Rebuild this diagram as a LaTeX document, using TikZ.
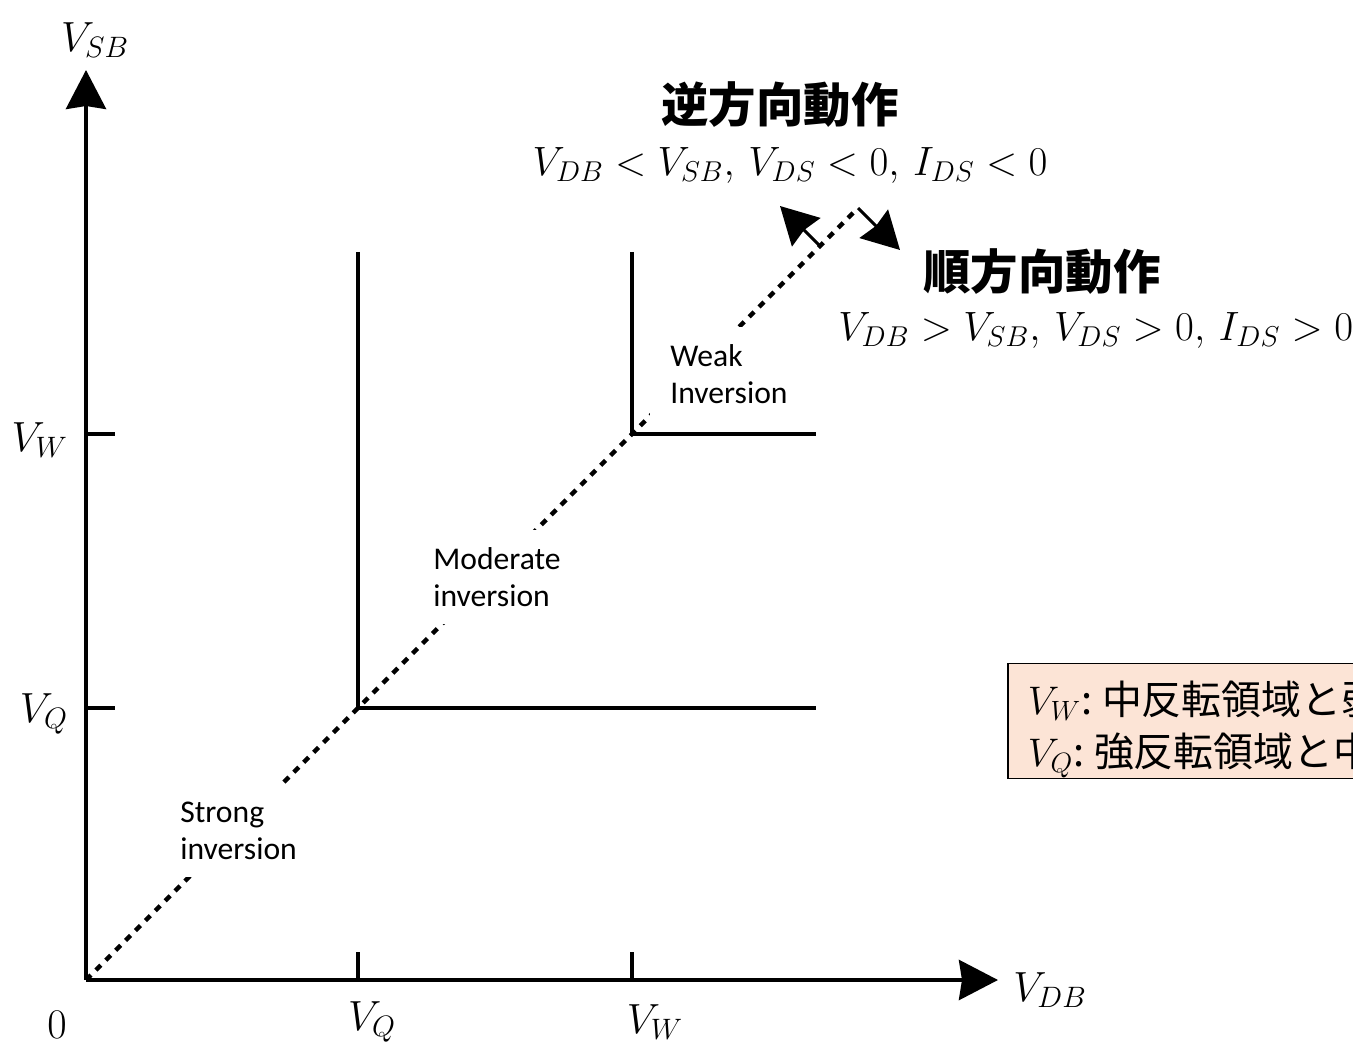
\RequirePackage{fix-cm}
\documentclass[tikz,border=0pt]{standalone}
\usepackage{fontspec}
\setsansfont{Carlito}
\newfontfamily\jpfont{Noto Sans CJK JP}
\usetikzlibrary{arrows.meta}
\definecolor{keyfill}{RGB}{252,228,214}

\newcommand*{\vq}{272}
\newcommand*{\vw}{546}
\newcommand*{\xend}{730}
\newcommand*{\ytop}{728}

\begin{document}
\begin{tikzpicture}
[
	x=0.02cm, y=0.02cm,
	axis/.style={line width=0.08cm,-{Stealth[length=0.78cm,width=0.8cm,inset=0.06cm]}},
	border/.style={line width=0.08cm},
	tickmark/.style={line width=0.08cm},
	diag/.style={line width=0.09cm,dash pattern=on 0.14cm off 0.14cm},
	flow/.style={line width=0.06cm,-{Stealth[length=0.74cm,width=0.8cm,inset=0.06cm]}},
	region/.style={fill=white,font=\sffamily\fontsize{18}{21}\selectfont,align=left,inner xsep=0.4cm,inner ysep=0.34cm,anchor=west},
	mathlbl/.style={font=\fontsize{24}{28}\selectfont},
	cond/.style={font=\fontsize{23.3}{28}\selectfont},
	heading/.style={font=\jpfont\bfseries\fontsize{27}{32}\selectfont},
	keybox/.style={draw,line width=0.03cm,fill=keyfill,anchor=north west,align=left,text width=8cm,minimum height=2.3cm,inner xsep=0.4cm,inner ysep=0cm,font=\jpfont\fontsize{22.7}{29.5}\selectfont}
]

	\useasboundingbox (-86,-69) rectangle (1267,980);

	% points
	\coordinate (O) at (0,0);
	\coordinate (xtip) at (912,0);
	\coordinate (ytip) at (0,910);
	\coordinate (Q) at (\vq,\vq);
	\coordinate (W) at (\vw,\vw);
	\coordinate (Qtop) at (\vq,\ytop);
	\coordinate (Qright) at (\xend,\vq);
	\coordinate (Wtop) at (\vw,\ytop);
	\coordinate (Wright) at (\xend,\vw);
	\coordinate (dend) at (772,772);
	\coordinate (rbase) at (734,734);
	\coordinate (rtip) at (694,774);
	\coordinate (ftip) at (814,730);

	% diagonal
	\draw[diag] (O) -- (dend);

	% axes
	\draw[axis] (O) -- (xtip);
	\draw[axis] (O) -- (ytip);

	% ticks
	\foreach \v in {\vq,\vw} {
		\draw[tickmark] (0,\v) -- (29,\v);
		\draw[tickmark] (\v,0) -- (\v,28);
	}

	% region borders
	\draw[border] (Qtop) -- (Q) -- (Qright);
	\draw[border] (Wtop) -- (W) -- (Wright);

	% axis labels
	\node[mathlbl] (lsb) at (9,940) {$V_{SB}$};
	\node[mathlbl] (ldb) at (964,-10) {$V_{DB}$};
	\node[mathlbl] (lzero) at (-29,-45) {$0$};
	\node[mathlbl] (lxq) at (286,-42) {$V_Q$};
	\node[mathlbl] (lxw) at (569,-42) {$V_W$};
	\node[mathlbl,anchor=east] (lyq) at (-12,266) {$V_Q$};
	\node[mathlbl,anchor=east] (lyw) at (-12,540) {$V_W$};

	% regions
	\node[region] (weak) at (564,606) {Weak\\Inversion};
	\node[region] (moderate) at (327,403) {Moderate\\inversion};
	\node[region] (strong) at (74,149) {Strong\\inversion};

	% directions
	\draw[flow] (rbase) -- (rtip);
	\draw[flow] (dend) -- (ftip);
	\node[heading] (rev) at (694,875) {逆方向動作};
	\node[cond] (revcond) at (704,815) {$V_{DB} < V_{SB},\, V_{DS} < 0,\, I_{DS} < 0$};
	\node[heading] (fwd) at (956,708) {順方向動作};
	\node[cond,anchor=west,inner xsep=0pt] (fwdcond) at (752,650) {$V_{DB} > V_{SB},\, V_{DS} > 0,\, I_{DS} > 0$};

	% key
	\begin{scope}
		\clip (-86,-69) rectangle (1267,980);
		\node[keybox] (key) at (921,317) {\rule{0pt}{1.0cm}$V_W$:\hspace{0.2cm}中反転領域と弱\\$V_Q$:\hspace{0.2cm}強反転領域と中};
	\end{scope}

\end{tikzpicture}
\end{document}
